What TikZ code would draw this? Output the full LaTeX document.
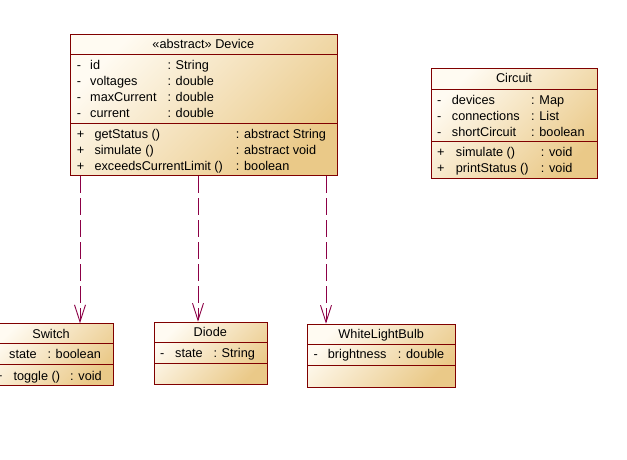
\documentclass[tikz,border=0pt]{standalone}
\usepackage{fontspec}
\setmainfont{Liberation Sans}
\usetikzlibrary{arrows.meta}
\definecolor{umlborder}{RGB}{128,0,0}
\definecolor{umllight}{RGB}{255,251,242}
\definecolor{umldark}{RGB}{234,201,136}
\definecolor{umlarrow}{RGB}{140,0,70}
\tikzset{
  classbox/.style={draw=umlborder, line width=1pt, top color=umllight, bottom color=umldark, shading angle=45, inner sep=0pt, anchor=north west},
  sepline/.style={draw=umlborder, line width=1pt},
  txt/.style={anchor=base west, inner sep=0pt, font=\fontsize{12.7}{15}\selectfont},
  ttl/.style={anchor=base, inner sep=0pt, font=\fontsize{12.7}{15}\selectfont},
  realize/.style={draw=umlarrow, line width=0.9pt, dash pattern=on 17pt off 5pt, -{Straight Barb[length=17pt,width=11pt,line width=0.9pt]}},
}
\begin{document}
\begin{tikzpicture}[x=1pt,y=-1pt]
\useasboundingbox (0,0) rectangle (627,459);
\fill[white] (0,0) rectangle (627,459);
\clip (0,0) rectangle (627,459);

% Device
\node[classbox, minimum width=266.5pt, minimum height=141.5pt] (device) at (70,33.5) {};
\draw[sepline] (device.west |- 0,54) -- (device.east |- 0,54);
\draw[sepline] (device.west |- 0,123.5) -- (device.east |- 0,123.5);
\node[ttl] (dt) at (203.3,48) {«abstract» Device};
\node[txt] (da1) at (76.7,69.8) {-};
\node[txt] (da1n) at (90,69.8) {id};
\node[txt] (da1t) at (167.3,69.8) {: String};
\node[txt] (da2) at (76.7,85.8) {-};
\node[txt] (da2n) at (90,85.8) {voltages};
\node[txt] (da2t) at (167.3,85.8) {: double};
\node[txt] (da3) at (76.7,101.8) {-};
\node[txt] (da3n) at (90,101.8) {maxCurrent};
\node[txt] (da3t) at (167.3,101.8) {: double};
\node[txt] (da4) at (76.7,117.6) {-};
\node[txt] (da4n) at (90,117.6) {current};
\node[txt] (da4t) at (167.3,117.6) {: double};
\node[txt] (do1) at (76.7,138.2) {+};
\node[txt] (do1n) at (94.3,138.2) {getStatus ()};
\node[txt] (do1t) at (235.7,138.2) {: abstract String};
\node[txt] (do2) at (76.7,154.2) {+};
\node[txt] (do2n) at (94.3,154.2) {simulate ()};
\node[txt] (do2t) at (235.7,154.2) {: abstract void};
\node[txt] (do3) at (76.7,170) {+};
\node[txt] (do3n) at (94.3,170) {exceedsCurrentLimit ()};
\node[txt] (do3t) at (235.7,170) {: boolean};

% Circuit
\node[classbox, minimum width=166pt, minimum height=110pt] (circuit) at (431,67.7) {};
\draw[sepline] (circuit.west |- 0,89) -- (circuit.east |- 0,89);
\draw[sepline] (circuit.west |- 0,141.7) -- (circuit.east |- 0,141.7);
\node[ttl] (ct) at (514,82.6) {Circuit};
\node[txt] (ca1) at (437,104) {-};
\node[txt] (ca1n) at (451.7,104) {devices};
\node[txt] (ca1t) at (531,104) {: Map};
\node[txt] (ca2) at (437,120) {-};
\node[txt] (ca2n) at (451.7,120) {connections};
\node[txt] (ca2t) at (531,120) {: List};
\node[txt] (ca3) at (437,136) {-};
\node[txt] (ca3n) at (451.7,136) {shortCircuit};
\node[txt] (ca3t) at (531,136) {: boolean};
\node[txt] (co1) at (437,156.3) {+};
\node[txt] (co1n) at (455.7,156.3) {simulate ()};
\node[txt] (co1t) at (540.7,156.3) {: void};
\node[txt] (co2) at (437,172.3) {+};
\node[txt] (co2n) at (455.7,172.3) {printStatus ()};
\node[txt] (co2t) at (540.7,172.3) {: void};

% Switch
\node[classbox, minimum width=123.7pt, minimum height=61.7pt] (switch) at (-11,323.3) {};
\draw[sepline] (switch.west |- 0,343.3) -- (switch.east |- 0,343.3);
\draw[sepline] (switch.west |- 0,364) -- (switch.east |- 0,364);
\node[ttl] (st) at (51,338) {Switch};
\node[txt] (sa1) at (-5,358.7) {-};
\node[txt] (sa1n) at (9,358.7) {state};
\node[txt] (sa1t) at (47.3,358.7) {: boolean};
\node[txt] (so1) at (-5,380) {+};
\node[txt] (so1n) at (13.3,380) {toggle ()};
\node[txt] (so1t) at (70,380) {: void};

% Diode
\node[classbox, minimum width=112.7pt, minimum height=62.6pt] (diode) at (154,321.7) {};
\draw[sepline] (diode.west |- 0,342.3) -- (diode.east |- 0,342.3);
\draw[sepline] (diode.west |- 0,363.3) -- (diode.east |- 0,363.3);
\node[ttl] (dit) at (210.3,336.3) {Diode};
\node[txt] (dia1) at (160,357) {-};
\node[txt] (dia1n) at (175,357) {state};
\node[txt] (dia1t) at (213.3,357) {: String};

% WhiteLightBulb
\node[classbox, minimum width=147.7pt, minimum height=63pt] (bulb) at (307.3,323.7) {};
\draw[sepline] (bulb.west |- 0,344.3) -- (bulb.east |- 0,344.3);
\draw[sepline] (bulb.west |- 0,365.7) -- (bulb.east |- 0,365.7);
\node[ttl] (bt) at (381.2,338.3) {WhiteLightBulb};
\node[txt] (ba1) at (313.3,358.7) {-};
\node[txt] (ba1n) at (327.7,358.7) {brightness};
\node[txt] (ba1t) at (397.7,358.7) {: double};

% realizations
\coordinate (xs) at (80,0);
\coordinate (xd) at (198,0);
\coordinate (xb) at (326,0);
\draw[realize] (device.south -| xs) -- (switch.north -| xs);
\draw[realize] (device.south -| xd) -- (diode.north -| xd);
\draw[realize] (device.south -| xb) -- (bulb.north -| xb);
\end{tikzpicture}
\end{document}
